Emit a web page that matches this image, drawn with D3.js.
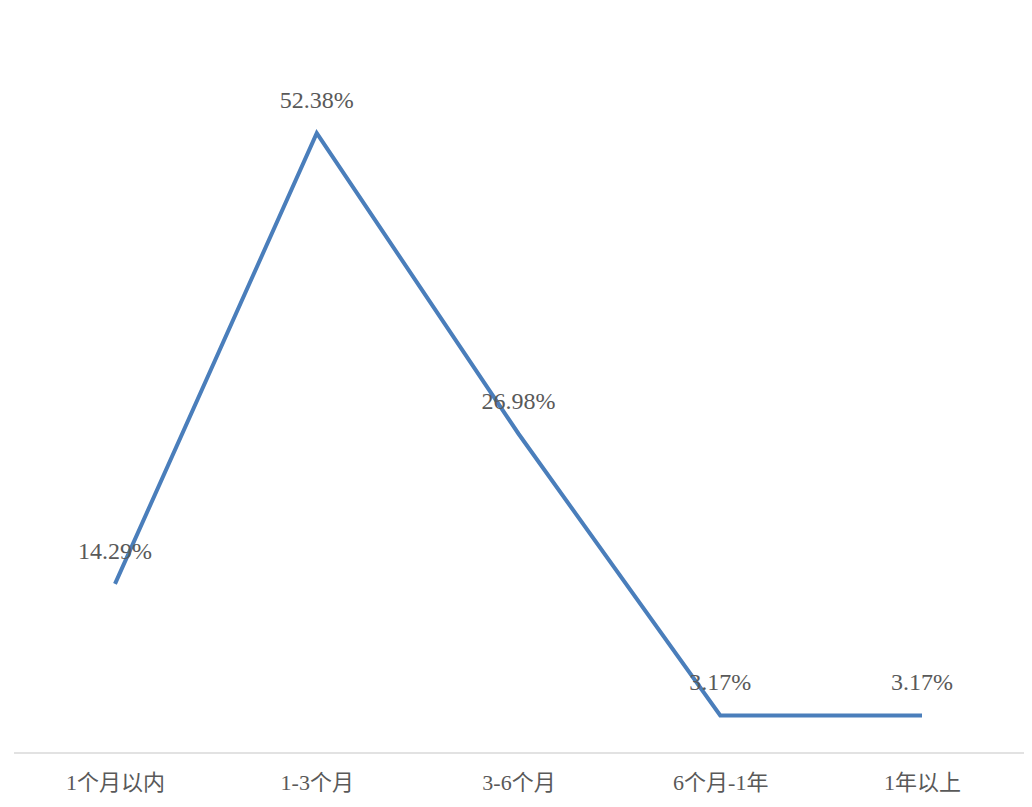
<!DOCTYPE html>
<html><head><meta charset="utf-8">
<script src="https://cdn.jsdelivr.net/npm/d3@7"></script>
<style>body{margin:0;background:#fff}</style>
</head><body>
<svg id="c" width="1032" height="807"></svg>
<script>
const categories = ["1个月以内", "1-3个月", "3-6个月", "6个月-1年", "1年以上"];
const values = [14.29, 52.38, 26.98, 3.17, 3.17];
const valueLabels = ["14.29%", "52.38%", "26.98%", "3.17%", "3.17%"];

const svg = d3.select("#c");
const x = d3.scalePoint().domain(categories).range([115, 922]);
const y = d3.scaleLinear().domain([0, 60]).range([753, 43]);

svg.append("line").attr("x1", 14).attr("x2", 1024).attr("y1", y(0)).attr("y2", y(0))
  .attr("stroke", "#d9d9d9").attr("stroke-width", 1.5);

const xAxis = svg.append("g").attr("transform", `translate(0,${y(0)})`)
  .call(d3.axisBottom(x).tickSize(0).tickPadding(21));
xAxis.select(".domain").remove();
xAxis.selectAll("text").attr("font-family", "'Liberation Serif','Noto Sans CJK SC',serif")
  .attr("font-size", 22).attr("fill", "#595959");

const line = d3.line().x((d, i) => x(categories[i])).y(d => y(d));
svg.append("path").datum(values).attr("d", line).attr("fill", "none")
  .attr("stroke", "#4a7ebb").attr("stroke-width", 4).attr("stroke-linejoin", "miter");

svg.selectAll(".lbl").data(values).enter().append("text")
  .attr("x", (d, i) => x(categories[i])).attr("y", d => y(d) - 25)
  .attr("text-anchor", "middle").attr("font-family", "'Liberation Serif',serif")
  .attr("font-size", 24).attr("fill", "#595959")
  .text((d, i) => valueLabels[i]);
</script>
</body></html>
